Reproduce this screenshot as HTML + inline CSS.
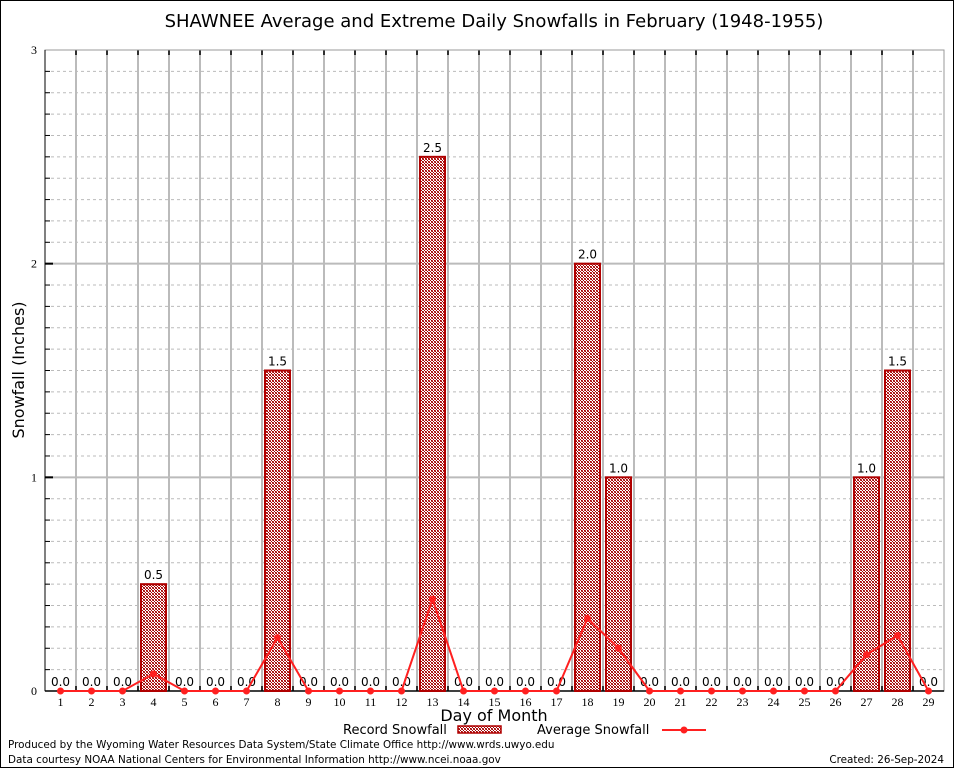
<!DOCTYPE html>
<html><head><meta charset="utf-8"><style>
body{margin:0;background:#fff}
svg{display:block;font-family:"DejaVu Sans","Liberation Sans",sans-serif}
</style></head><body>
<svg id="c" width="954" height="768" xmlns="http://www.w3.org/2000/svg">
<defs>
<pattern id="hatch" width="3" height="3" patternUnits="userSpaceOnUse">
<rect width="3" height="3" fill="#fff"/>
<rect width="1" height="1" fill="#a00000"/><rect x="2" y="0" width="1" height="1" fill="#c04040"/>
<rect x="1" y="1" width="1" height="1" fill="#a00000"/>
<rect x="0" y="2" width="1" height="1" fill="#c04040"/><rect x="2" y="2" width="1" height="1" fill="#a00000"/>
</pattern>
</defs>
<rect x="0.5" y="0.5" width="953" height="767" fill="#fff" stroke="#000"/>
<text x="494" y="27" font-size="18" text-anchor="middle">SHAWNEE Average and Extreme Daily Snowfalls in February (1948-1955)</text>
<g id="grid"></g>
<g id="bars"></g>
<g id="line"></g>
<text x="24" y="370" font-size="16" text-anchor="middle" transform="rotate(-90 24 370)">Snowfall (Inches)</text>
<text x="494" y="721" font-size="16" text-anchor="middle">Day of Month</text>
<g>
<text x="343" y="734" font-size="13">Record Snowfall</text>
<rect x="458" y="726" width="43" height="7" fill="url(#hatch)" stroke="#b00000" stroke-width="1.5"/>
</g>
<g>
<text x="537" y="734" font-size="13">Average Snowfall</text>
<line x1="662" y1="730" x2="706" y2="730" stroke="#ff2020" stroke-width="2"/>
<circle cx="684" cy="730" r="3.5" fill="#ff2020"/>
</g>
<text x="8" y="748" font-size="10.4">Produced by the Wyoming Water Resources Data System/State Climate Office http://www.wrds.uwyo.edu</text>
<text x="8" y="763" font-size="10.4">Data courtesy NOAA National Centers for Environmental Information http://www.ncei.noaa.gov</text>
<text x="944" y="763" font-size="10.4" text-anchor="end">Created:  26-Sep-2024</text>
</svg>
<script>
const days=[1,2,3,4,5,6,7,8,9,10,11,12,13,14,15,16,17,18,19,20,21,22,23,24,25,26,27,28,29];
const recordSnow=[0,0,0,0.5,0,0,0,1.5,0,0,0,0,2.5,0,0,0,0,2.0,1.0,0,0,0,0,0,0,0,1.0,1.5,0];
const avgSnow=[0,0,0,0.08,0,0,0,0.25,0,0,0,0,0.43,0,0,0,0,0.34,0.2,0,0,0,0,0,0,0,0.17,0.26,0];
const yTicks=[0,1,2,3];
const NS="http://www.w3.org/2000/svg";
const L=45,R=944,T=50,B=691,yMax=3;
const slot=(R-L)/days.length;
const xs=i=>L+slot*(i+0.5);
const ys=v=>B-(v/yMax)*(B-T);
function mk(tag,attrs,parent,text){const e=document.createElementNS(NS,tag);for(const k in attrs)e.setAttribute(k,attrs[k]);if(text!==undefined)e.textContent=text;parent.appendChild(e);return e;}
const grid=document.getElementById('grid'),bars=document.getElementById('bars'),line=document.getElementById('line');
for(let k=1;k<yMax*10;k++){if(k%10===0)continue;const y=ys(k/10);
const g=mk('line',{x1:L,x2:R,y1:y,y2:y,stroke:'#bbb','stroke-dasharray':'3,3'},grid);


mk('line',{x1:L,x2:L+5,y1:y,y2:y,stroke:'#000'},grid);}
yTicks.forEach(v=>{const y=ys(v);
if(v>0&&v<yMax){const g=mk('line',{x1:L,x2:R,y1:y,y2:y,stroke:'#bbb','stroke-width':2},grid);


mk('line',{x1:L,x2:L+8,y1:y,y2:y,stroke:'#000','stroke-width':2},grid);}
const t=mk('text',{x:L-8,y:y+4,'font-size':12,'text-anchor':'end','font-family':'Liberation Serif, serif'},grid,String(v));

});
for(let i=1;i<days.length;i++){const x=L+slot*i;
const g=mk('line',{x1:x,x2:x,y1:T,y2:B,stroke:'#bbb','stroke-width':2},grid);


mk('line',{x1:x,x2:x,y1:T,y2:T+5,stroke:'#000','stroke-width':1.5},grid);
mk('line',{x1:x,x2:x,y1:B,y2:B-5,stroke:'#000','stroke-width':1.5},grid);}
mk('rect',{x:L,y:T,width:R-L,height:B-T,fill:'none',stroke:'#999'},grid);
mk('line',{x1:L,x2:L,y1:T,y2:B,stroke:'#000'},grid);
mk('line',{x1:L,x2:R,y1:B,y2:B,stroke:'#000','stroke-width':1.5},grid);
days.forEach((d,i)=>{const t=mk('text',{x:xs(i),y:B+15,'font-size':12,'text-anchor':'middle','font-family':'Liberation Serif, serif'},grid,String(d));

});
recordSnow.forEach((v,i)=>{const x=xs(i);
if(v>0){const r=mk('rect',{x:x-12.5,y:ys(v),width:25,height:B-ys(v),fill:'url(#hatch)',stroke:'#b00000','stroke-width':2},bars);

}
const t=mk('text',{x:x,y:ys(v)-5,'font-size':12,'text-anchor':'middle'},bars,v.toFixed(1));

});
const pts=avgSnow.map((v,i)=>xs(i)+','+ys(v)).join(' ');
const pl=mk('polyline',{points:pts,fill:'none',stroke:'#ff2020','stroke-width':2},line);


avgSnow.forEach((v,i)=>{const c=mk('circle',{cx:xs(i),cy:ys(v),r:3.5,fill:'#ff2020'},line);

});
</script>
</body></html>
